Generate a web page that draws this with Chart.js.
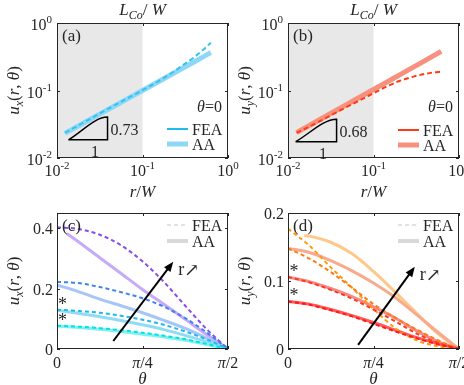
<!DOCTYPE html>
<html><head><meta charset="utf-8">
<script src="https://cdn.jsdelivr.net/npm/chart.js@4.4.1/dist/chart.umd.min.js"></script>
<style>
body{margin:0;background:#fff;}
#wrap{position:relative;width:464px;height:385px;background:#fff;}
#wrap canvas{position:absolute;left:0;top:0;}
</style></head>
<body><div id="wrap">
<canvas id="ca" width="464" height="385"></canvas>
<canvas id="cb" width="464" height="385"></canvas>
<canvas id="cc" width="464" height="385"></canvas>
<canvas id="cd" width="464" height="385"></canvas>
</div>
<script>
// ---------------- data ----------------
// (a) u_x at theta = 0, log-log
const rA = [0.0124, 0.02, 0.05, 0.1, 0.2, 0.3, 0.4, 0.5, 0.63];
const uxAA_a  = [0.0232, 0.0324, 0.0616, 0.100, 0.1625, 0.216, 0.264, 0.309, 0.365];
const uxFEA_a = [0.0236, 0.0330, 0.0630, 0.101, 0.168, 0.240, 0.310, 0.390, 0.510];
const triA_x = [0.0136, 0.039, 0.039, 0.0136];
const triA_y = [0.0186, 0.0186, 0.0404, 0.0186];
// (b) u_y at theta = 0, log-log
const rB = [0.0126, 0.02, 0.05, 0.1, 0.15, 0.2, 0.3, 0.4, 0.5, 0.62];
const uyAA_b  = [0.0238, 0.033, 0.0633, 0.1036, 0.138, 0.169, 0.226, 0.277, 0.325, 0.380];
const uyFEA_b = [0.0235, 0.0315, 0.058, 0.091, 0.118, 0.138, 0.162, 0.176, 0.185, 0.190];
const triB_x = [0.01227, 0.037, 0.037, 0.01227];
const triB_y = [0.01746, 0.01746, 0.0376, 0.01746];
const logTicks = [0.01, 0.1, 1];
const logExp = ['-2', '-1', '0'];
const shadeLCo = [0.01, 0.1];
// (c), (d) angular profiles, four radii (small -> large)
const theta = [0, 0.196, 0.393, 0.589, 0.785, 0.982, 1.178, 1.374, 1.571];
const thetaLateC = [0.09, 0.196, 0.393, 0.589, 0.785, 0.982, 1.178, 1.374, 1.571];
const thetaLateD = [0.15, 0.196, 0.393, 0.589, 0.785, 0.982, 1.178, 1.374, 1.571];
const uxFEA_c1 = [0.077, 0.074, 0.069, 0.062, 0.054, 0.044, 0.032, 0.017, 0];
const uxAA_c1  = [0.076, 0.071, 0.065, 0.058, 0.049, 0.040, 0.029, 0.015, 0];
const uxFEA_c2 = [0.130, 0.126, 0.120, 0.110, 0.097, 0.080, 0.058, 0.032, 0];
const uxAA_c2  = [0.128, 0.118, 0.107, 0.094, 0.080, 0.064, 0.045, 0.024, 0];
const uxFEA_c3 = [0.222, 0.218, 0.205, 0.188, 0.168, 0.140, 0.102, 0.055, 0];
const uxAA_c3  = [0.212, 0.190, 0.165, 0.143, 0.120, 0.095, 0.068, 0.036, 0];
const uxFEA_c4 = [0.403, 0.397, 0.378, 0.343, 0.290, 0.222, 0.143, 0.066, 0];
const uxAA_c4  = [0.382, 0.355, 0.302, 0.250, 0.197, 0.148, 0.098, 0.048, 0];
const uyFEA_d1 = [0.070, 0.065, 0.057, 0.048, 0.037, 0.026, 0.016, 0.007, 0];
const uyAA_d1  = [0.070, 0.066, 0.058, 0.049, 0.039, 0.028, 0.017, 0.008, 0];
const uyFEA_d2 = [0.106, 0.098, 0.087, 0.074, 0.058, 0.041, 0.023, 0.009, 0];
const uyAA_d2  = [0.106, 0.099, 0.089, 0.077, 0.062, 0.046, 0.027, 0.011, 0];
const uyFEA_d3 = [0.148, 0.133, 0.113, 0.090, 0.066, 0.046, 0.029, 0.013, 0];
const uyAA_d3  = [0.148, 0.142, 0.130, 0.115, 0.097, 0.076, 0.051, 0.025, 0];
const uyFEA_d4 = [0.177, 0.152, 0.120, 0.090, 0.059, 0.031, 0.013, 0.004, 0];
const uyAA_d4  = [0.167, 0.166, 0.157, 0.140, 0.114, 0.084, 0.053, 0.023, 0];
const thetaTicks = [0, 0.7854, 1.5708];
const thetaTickLabels = [[{t:'0'}], [{t:'π',i:1},{t:'/4'}], [{t:'π',i:1},{t:'/2'}]];
const yTicksC = [0, 0.2, 0.4];
const yTicksD = [0, 0.1, 0.2];
const arrowC_x = [0.517, 1.068], arrowC_y = [0.0265, 0.289];
const arrowD_x = [0.644, 1.165], arrowD_y = [0.006, 0.121];
const starC_x = [0.05, 0.05], starC_y = [0.129, 0.076];
const starD_x = [0.055, 0.055], starD_y = [0.106, 0.070];

// ---------------- helpers ----------------
const SERIF = '"Liberation Serif","Times New Roman","DejaVu Serif",serif';
const INK = '#262626';
function pts(xs, ys){ return xs.map((x,i)=>({x:x, y:ys[i]})); }
function fnt(p){ return (p.i?'italic ':'') + (p.s||16) + 'px ' + SERIF; }
function richW(ctx, parts, s){ let w=0; for(const p of parts){ ctx.font=fnt(Object.assign({s:s},p)); w+=ctx.measureText(p.t).width; } return w; }
function drawRich(ctx, parts, x, y, align, s){
  const w = richW(ctx, parts, s);
  let cx = align==='center' ? x-w/2 : (align==='right' ? x-w : x);
  ctx.textAlign='left'; ctx.textBaseline='alphabetic'; ctx.fillStyle=INK;
  for(const p0 of parts){ const p=Object.assign({s:s},p0); ctx.font=fnt(p); ctx.fillText(p.t, cx, y+(p.dy||0)); cx+=ctx.measureText(p.t).width; }
}
function uTitle(sub){ return [{t:'u',i:1},{t:sub,i:1,s:12,dy:4},{t:'('},{t:'r',i:1},{t:', '},{t:'θ',i:1},{t:')'}]; }
const rWTitle = [{t:'r',i:1},{t:'/'},{t:'W',i:1}];
const LCoTitle = [{t:'L',i:1},{t:'Co',i:1,s:12,dy:4},{t:'/ '},{t:'W',i:1}];

function makeDecor(cfg){
  return {
    id:'decor',
    beforeDatasetsDraw(chart){
      const ctx=chart.ctx, a=chart.chartArea, xs=chart.scales.x;
      if(cfg.shade){
        const x0=xs.getPixelForValue(cfg.shade[0]), x1=xs.getPixelForValue(cfg.shade[1]);
        ctx.save(); ctx.fillStyle='#e8e8e8'; ctx.fillRect(x0, a.top, x1-x0, a.bottom-a.top); ctx.restore();
      }
    },
    afterDatasetsDraw(chart){
      const ctx=chart.ctx, a=chart.chartArea, xs=chart.scales.x, ys=chart.scales.y;
      ctx.save();
      ctx.strokeStyle=INK; ctx.lineWidth=1;
      ctx.strokeRect(a.left+0.5, a.top+0.5, a.right-a.left-1, a.bottom-a.top-1);
      ctx.beginPath();
      for(const v of cfg.xt){ const px=Math.round(xs.getPixelForValue(v))+0.5; ctx.moveTo(px,a.bottom); ctx.lineTo(px,a.bottom-3); ctx.moveTo(px,a.top); ctx.lineTo(px,a.top+3); }
      for(const v of cfg.yt){ const py=Math.round(ys.getPixelForValue(v))+0.5; ctx.moveTo(a.left,py); ctx.lineTo(a.left+3,py); ctx.moveTo(a.right,py); ctx.lineTo(a.right-3,py); }
      ctx.stroke();
      if(cfg.log){
        cfg.xt.forEach((v,i)=>{ const px=xs.getPixelForValue(v); const parts=[{t:'10'},{t:cfg.exp[i],s:11,dy:-7}]; drawRich(ctx, parts, px, a.bottom+18, 'center', 16); });
        cfg.yt.forEach((v,i)=>{ const py=ys.getPixelForValue(v); const parts=[{t:'10'},{t:cfg.exp[i],s:11,dy:-7}]; drawRich(ctx, parts, a.left-5, py+7, 'right', 16); });
      } else {
        cfg.xt.forEach((v,i)=>{ const px=xs.getPixelForValue(v); drawRich(ctx, cfg.xl[i], px, a.bottom+19, 'center', 16); });
        cfg.yt.forEach((v,i)=>{ const py=ys.getPixelForValue(v); drawRich(ctx, [{t:String(v)}], a.left-4, py+6, 'right', 16); });
      }
      const cx=(a.left+a.right)/2, cy=(a.top+a.bottom)/2;
      ctx.save(); ctx.translate(a.left-44, cy); ctx.rotate(-Math.PI/2); drawRich(ctx, uTitle(cfg.sub), 0, 6, 'center', 17); ctx.restore();
      if(cfg.log){
        drawRich(ctx, rWTitle, cx, a.bottom+39, 'center', 17);
        drawRich(ctx, LCoTitle, xs.getPixelForValue(0.1), a.top-8, 'center', 17);
      } else {
        drawRich(ctx, [{t:'θ',i:1}], cx, a.bottom+35, 'center', 17);
      }
      drawRich(ctx, [{t:cfg.panel}], a.left+5, a.top+18, 'left', 17);
      const lx0=a.right-61, lx1=a.right-40, tx=a.right-36;
      const ly1=a.top+cfg.legY[0], ly2=a.top+cfg.legY[1];
      ctx.lineCap='butt';
      ctx.strokeStyle=cfg.legC[0]; ctx.lineWidth=cfg.legW[0]; ctx.setLineDash(cfg.legDash||[]);
      ctx.beginPath(); ctx.moveTo(lx0,ly1); ctx.lineTo(lx1,ly1); ctx.stroke(); ctx.setLineDash([]);
      ctx.strokeStyle=cfg.legC[1]; ctx.lineWidth=cfg.legW[1];
      ctx.beginPath(); ctx.moveTo(lx0,ly2); ctx.lineTo(lx1,ly2); ctx.stroke();
      drawRich(ctx, [{t:'FEA'}], tx, ly1+5.5, 'left', 16);
      drawRich(ctx, [{t:'AA'}], tx, ly2+5.5, 'left', 16);
      if(cfg.theta0){ drawRich(ctx, [{t:'θ',i:1},{t:'='},{t:'0'}], a.right-6, a.top+89, 'right', 16); }
      if(cfg.tri){
        const xr=xs.getPixelForValue(cfg.tri.x[1]), yb=ys.getPixelForValue(cfg.tri.y[0]), yt=ys.getPixelForValue(cfg.tri.y[2]);
        const xl=xs.getPixelForValue(cfg.tri.x[0]);
        drawRich(ctx, [{t:cfg.tri.label}], xr+3, (yb+yt)/2+7, 'left', 16);
        drawRich(ctx, [{t:'1'}], (xl+xr)/2+7, yb+17, 'center', 16);
      }
      if(cfg.arrow){
        const x0=xs.getPixelForValue(cfg.arrow.x[0]), y0=ys.getPixelForValue(cfg.arrow.y[0]);
        const x1=xs.getPixelForValue(cfg.arrow.x[1]), y1=ys.getPixelForValue(cfg.arrow.y[1]);
        const ang=Math.atan2(y1-y0,x1-x0), L=10, W=4;
        ctx.strokeStyle='#000'; ctx.fillStyle='#000'; ctx.lineWidth=2;
        ctx.beginPath(); ctx.moveTo(x0,y0); ctx.lineTo(x1-L*0.8*Math.cos(ang), y1-L*0.8*Math.sin(ang)); ctx.stroke();
        ctx.beginPath(); ctx.moveTo(x1,y1);
        ctx.lineTo(x1-L*Math.cos(ang)+W*Math.sin(ang), y1-L*Math.sin(ang)-W*Math.cos(ang));
        ctx.lineTo(x1-L*Math.cos(ang)-W*Math.sin(ang), y1-L*Math.sin(ang)+W*Math.cos(ang));
        ctx.closePath(); ctx.fill();
        drawRich(ctx, [{t:'r'},{t:'↗',s:18,dy:1}], x1+5, y1+13, 'left', 18);
      }
      if(cfg.star){
        cfg.star.x.forEach((v,i)=>{ drawRich(ctx, [{t:'*'}], xs.getPixelForValue(v), ys.getPixelForValue(cfg.star.y[i]), 'center', 18); });
      }
      ctx.restore();
    }
  };
}

function pad(l,r,t,b){ return {left:l, right:464-r, top:t, bottom:385-b}; }
function baseOpts(padding, xscale, yscale){
  return {
    responsive:false, animation:false, devicePixelRatio:1,
    layout:{padding:padding},
    scales:{x:Object.assign({display:false},xscale), y:Object.assign({display:false},yscale)},
    plugins:{legend:{display:false}, tooltip:{enabled:false}},
    elements:{point:{radius:0}, line:{borderCapStyle:'butt'}}
  };
}
function ds(data, color, width, dash, order, tension){
  return {data:data, borderColor:color, borderWidth:width, borderDash:dash||[], order:order, tension:tension||0, cubicInterpolationMode:'monotone', pointRadius:0, fill:false};
}

new Chart(document.getElementById('ca'), {
  type:'line',
  data:{datasets:[
    ds(pts(triA_x, triA_y), '#000', 1.5, [], 0),
    ds(pts(rA, uxFEA_a), '#33c3f2', 2, [5,3], 1, 0.3),
    ds(pts(rA, uxAA_a), '#8fd8f5', 5, [], 2)
  ]},
  options:baseOpts(pad(57,228,23,158), {type:'logarithmic',min:0.01,max:1}, {type:'logarithmic',min:0.01,max:1}),
  plugins:[makeDecor({log:true, xt:logTicks, yt:logTicks, exp:logExp, sub:'x', panel:'(a)', shade:shadeLCo,
    legY:[106,121], legC:['#22bbee','#8fd8f5'], legW:[2,5], theta0:true, tri:{x:triA_x,y:triA_y,label:'0.73'}})]
});
new Chart(document.getElementById('cb'), {
  type:'line',
  data:{datasets:[
    ds(pts(triB_x, triB_y), '#000', 1.5, [], 0),
    ds(pts(rB, uyFEA_b), '#ff3a14', 2, [5,3], 1, 0.3),
    ds(pts(rB, uyAA_b), '#f7907c', 5, [], 2)
  ]},
  options:baseOpts(pad(288,459,23,158), {type:'logarithmic',min:0.01,max:1}, {type:'logarithmic',min:0.01,max:1}),
  plugins:[makeDecor({log:true, xt:logTicks, yt:logTicks, exp:logExp, sub:'y', panel:'(b)', shade:shadeLCo,
    legY:[107,122], legC:['#ff3a14','#f7907c'], legW:[2,5], theta0:true, tri:{x:triB_x,y:triB_y,label:'0.68'}})]
});
new Chart(document.getElementById('cc'), {
  type:'line',
  data:{datasets:[
    ds(pts(theta, uxFEA_c1), '#00e3e3', 2, [4,3], 1, 0.4),
    ds(pts(theta, uxFEA_c2), '#1fb8f2', 2, [4,3], 1, 0.4),
    ds(pts(theta, uxFEA_c3), '#3f82f0', 2, [4,3], 1, 0.4),
    ds(pts(theta, uxFEA_c4), '#8a4cf0', 2, [4,3], 1, 0.4),
    ds(pts(theta, uxAA_c1), '#80f0f0', 3, [], 2, 0.4),
    ds(pts(theta, uxAA_c2), '#90dcf6', 3, [], 2, 0.4),
    ds(pts(theta, uxAA_c3), '#a6c6f8', 3, [], 2, 0.4),
    ds(pts(thetaLateC, uxAA_c4), '#c6aaf8', 3, [], 2, 0.4)
  ]},
  options:baseOpts(pad(57,228,213,349), {type:'linear',min:0,max:1.5708}, {type:'linear',min:0,max:0.45}),
  plugins:[makeDecor({log:false, xt:thetaTicks, xl:thetaTickLabels, yt:yTicksC, sub:'x', panel:'(c)',
    legY:[12,28], legC:['#d9d9d9','#d9d9d9'], legW:[1.5,4], legDash:[4,3],
    arrow:{x:arrowC_x,y:arrowC_y}, star:{x:starC_x,y:starC_y}})]
});
new Chart(document.getElementById('cd'), {
  type:'line',
  data:{datasets:[
    ds(pts(theta, uyFEA_d1), '#ff1a1a', 2, [4,3], 1, 0.4),
    ds(pts(theta, uyFEA_d2), '#ff3a1a', 2, [4,3], 1, 0.4),
    ds(pts(theta, uyFEA_d3), '#ff7a10', 2, [4,3], 1, 0.4),
    ds(pts(theta, uyFEA_d4), '#ff9a10', 2, [4,3], 1, 0.4),
    ds(pts(theta, uyAA_d1), '#ff5a5a', 3, [], 2, 0.4),
    ds(pts(theta, uyAA_d2), '#f48a8a', 3, [], 2, 0.4),
    ds(pts(theta, uyAA_d3), '#f8aa8c', 3, [], 2, 0.4),
    ds(pts(thetaLateD, uyAA_d4), '#ffc88a', 3, [], 2, 0.4)
  ]},
  options:baseOpts(pad(288,459,213,349), {type:'linear',min:0,max:1.5708}, {type:'linear',min:0,max:0.2}),
  plugins:[makeDecor({log:false, xt:thetaTicks, xl:thetaTickLabels, yt:yTicksD, sub:'y', panel:'(d)',
    legY:[12,28], legC:['#d9d9d9','#d9d9d9'], legW:[1.5,4], legDash:[4,3],
    arrow:{x:arrowD_x,y:arrowD_y}, star:{x:starD_x,y:starD_y}})]
});
</script>
</body></html>
